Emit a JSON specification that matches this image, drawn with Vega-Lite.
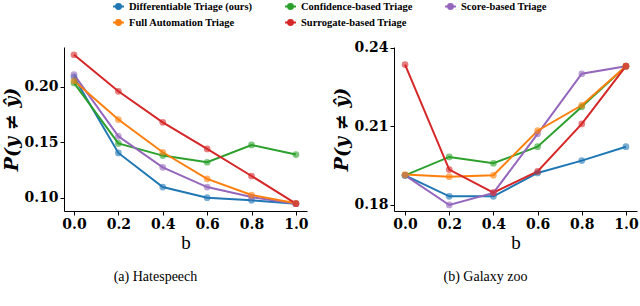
{
  "$schema": "https://vega.github.io/schema/vega-lite/v6.json",
  "padding": {"left": 2, "top": 0, "right": 0, "bottom": 0},
  "config": {
    "font": "DejaVu Serif",
    "view": {"stroke": null},
    "axis": {
      "labelFont": "DejaVu Serif", "labelFontWeight": "bold", "labelFontSize": 14, "labelColor": "#000",
      "titleFont": "DejaVu Serif", "titleFontWeight": "bold", "titleFontSize": 19, "titleColor": "#000",
      "domainColor": "#000", "tickColor": "#000", "grid": false, "tickSize": 4, "labelPadding": 2
    },
    "legend": {"labelFont": "Liberation Serif", "labelFontWeight": "bold", "labelFontSize": 10.5, "labelColor": "#000"}
  },
  "datasets": {
    "hate": [
      {"b": 0.0, "err": 0.209, "method": "Differentiable Triage (ours)"},
      {"b": 0.2, "err": 0.1404, "method": "Differentiable Triage (ours)"},
      {"b": 0.4, "err": 0.1096, "method": "Differentiable Triage (ours)"},
      {"b": 0.6, "err": 0.100, "method": "Differentiable Triage (ours)"},
      {"b": 0.8, "err": 0.0976, "method": "Differentiable Triage (ours)"},
      {"b": 1.0, "err": 0.0946, "method": "Differentiable Triage (ours)"},
      {"b": 0.0, "err": 0.2036, "method": "Confidence-based Triage"},
      {"b": 0.2, "err": 0.149, "method": "Confidence-based Triage"},
      {"b": 0.4, "err": 0.138, "method": "Confidence-based Triage"},
      {"b": 0.6, "err": 0.132, "method": "Confidence-based Triage"},
      {"b": 0.8, "err": 0.1476, "method": "Confidence-based Triage"},
      {"b": 1.0, "err": 0.1389, "method": "Confidence-based Triage"},
      {"b": 0.0, "err": 0.211, "method": "Score-based Triage"},
      {"b": 0.2, "err": 0.1554, "method": "Score-based Triage"},
      {"b": 0.4, "err": 0.1274, "method": "Score-based Triage"},
      {"b": 0.6, "err": 0.1096, "method": "Score-based Triage"},
      {"b": 0.8, "err": 0.1006, "method": "Score-based Triage"},
      {"b": 1.0, "err": 0.0946, "method": "Score-based Triage"},
      {"b": 0.0, "err": 0.2055, "method": "Full Automation Triage"},
      {"b": 0.2, "err": 0.1705, "method": "Full Automation Triage"},
      {"b": 0.4, "err": 0.141, "method": "Full Automation Triage"},
      {"b": 0.6, "err": 0.117, "method": "Full Automation Triage"},
      {"b": 0.8, "err": 0.1024, "method": "Full Automation Triage"},
      {"b": 1.0, "err": 0.095, "method": "Full Automation Triage"},
      {"b": 0.0, "err": 0.229, "method": "Surrogate-based Triage"},
      {"b": 0.2, "err": 0.196, "method": "Surrogate-based Triage"},
      {"b": 0.4, "err": 0.168, "method": "Surrogate-based Triage"},
      {"b": 0.6, "err": 0.144, "method": "Surrogate-based Triage"},
      {"b": 0.8, "err": 0.1196, "method": "Surrogate-based Triage"},
      {"b": 1.0, "err": 0.0946, "method": "Surrogate-based Triage"}
    ],
    "galaxy": [
      {"b": 0.0, "err": 0.1913, "method": "Differentiable Triage (ours)"},
      {"b": 0.2, "err": 0.1833, "method": "Differentiable Triage (ours)"},
      {"b": 0.4, "err": 0.1833, "method": "Differentiable Triage (ours)"},
      {"b": 0.6, "err": 0.1922, "method": "Differentiable Triage (ours)"},
      {"b": 0.8, "err": 0.1969, "method": "Differentiable Triage (ours)"},
      {"b": 1.0, "err": 0.2022, "method": "Differentiable Triage (ours)"},
      {"b": 0.0, "err": 0.1913, "method": "Confidence-based Triage"},
      {"b": 0.2, "err": 0.1983, "method": "Confidence-based Triage"},
      {"b": 0.4, "err": 0.1959, "method": "Confidence-based Triage"},
      {"b": 0.6, "err": 0.2022, "method": "Confidence-based Triage"},
      {"b": 0.8, "err": 0.2174, "method": "Confidence-based Triage"},
      {"b": 1.0, "err": 0.2329, "method": "Confidence-based Triage"},
      {"b": 0.0, "err": 0.1913, "method": "Score-based Triage"},
      {"b": 0.2, "err": 0.180, "method": "Score-based Triage"},
      {"b": 0.4, "err": 0.1846, "method": "Score-based Triage"},
      {"b": 0.6, "err": 0.2071, "method": "Score-based Triage"},
      {"b": 0.8, "err": 0.230, "method": "Score-based Triage"},
      {"b": 1.0, "err": 0.2329, "method": "Score-based Triage"},
      {"b": 0.0, "err": 0.1916, "method": "Full Automation Triage"},
      {"b": 0.2, "err": 0.1908, "method": "Full Automation Triage"},
      {"b": 0.4, "err": 0.1913, "method": "Full Automation Triage"},
      {"b": 0.6, "err": 0.2083, "method": "Full Automation Triage"},
      {"b": 0.8, "err": 0.218, "method": "Full Automation Triage"},
      {"b": 1.0, "err": 0.2329, "method": "Full Automation Triage"},
      {"b": 0.0, "err": 0.2335, "method": "Surrogate-based Triage"},
      {"b": 0.2, "err": 0.1935, "method": "Surrogate-based Triage"},
      {"b": 0.4, "err": 0.1847, "method": "Surrogate-based Triage"},
      {"b": 0.6, "err": 0.1928, "method": "Surrogate-based Triage"},
      {"b": 0.8, "err": 0.2109, "method": "Surrogate-based Triage"},
      {"b": 1.0, "err": 0.2329, "method": "Surrogate-based Triage"}
    ]
  },
  "hconcat": [
    {
      "width": 243, "height": 164,
      "data": {"name": "hate"},
      "title": {"text": "(a) Hatespeech", "orient": "bottom", "anchor": "middle", "frame": "bounds", "font": "Liberation Serif", "fontWeight": "normal", "fontSize": 14, "offset": 18, "color": "#000"},
      "encoding": {
        "x": {"field": "b", "type": "quantitative", "scale": {"domain": [-0.045, 1.05], "nice": false, "zero": false},
              "axis": {"values": [0, 0.2, 0.4, 0.6, 0.8, 1.0], "format": ".1f", "title": "b", "titleFont": "Liberation Serif", "titleFontWeight": "normal", "titleFontSize": 19, "titlePadding": 2}},
        "y": {"field": "err", "type": "quantitative", "scale": {"domain": [0.088, 0.236], "nice": false, "zero": false},
              "axis": {"values": [0.10, 0.15, 0.20], "format": ".2f", "title": "P(y ≠ ŷ)", "titleFontStyle": "italic", "titlePadding": 2}},
        "color": {"field": "method", "type": "nominal",
                  "scale": {"domain": ["Differentiable Triage (ours)", "Full Automation Triage", "Confidence-based Triage", "Surrogate-based Triage", "Score-based Triage"],
                            "range": ["#1f77b4", "#ff7f0e", "#2ca02c", "#d62728", "#9467bd"]},
                  "legend": {"orient": "none", "legendX": 48, "legendY": -47, "columns": 3, "title": null, "columnPadding": 28, "rowPadding": 3,
                             "symbolType": "M-1,0L1,0M-0.45,0A0.45,0.45,0,1,1,0.45,0A0.45,0.45,0,1,1,-0.45,0Z", "symbolSize": 120, "symbolStrokeWidth": 2, "labelLimit": 300,
                             "encode": {"symbols": {"update": {"stroke": {"scale": "color", "field": "value"}, "strokeWidth": {"value": 2}, "opacity": {"value": 1}}}}}}
      },
      "layer": [
        {"mark": {"type": "line", "strokeWidth": 2}},
        {"mark": {"type": "point", "filled": true, "size": 45, "opacity": 0.6}}
      ]
    },
    {
      "width": 243, "height": 164,
      "data": {"name": "galaxy"},
      "title": {"text": "(b) Galaxy zoo", "orient": "bottom", "anchor": "middle", "frame": "bounds", "font": "Liberation Serif", "fontWeight": "normal", "fontSize": 14, "offset": 18, "color": "#000"},
      "encoding": {
        "x": {"field": "b", "type": "quantitative", "scale": {"domain": [-0.05, 1.05], "nice": false, "zero": false},
              "axis": {"values": [0, 0.2, 0.4, 0.6, 0.8, 1.0], "format": ".1f", "title": "b", "titleFont": "Liberation Serif", "titleFontWeight": "normal", "titleFontSize": 19, "titlePadding": 2}},
        "y": {"field": "err", "type": "quantitative", "scale": {"domain": [0.1777, 0.2402], "nice": false, "zero": false},
              "axis": {"values": [0.18, 0.21, 0.24], "format": ".2f", "title": "P(y ≠ ŷ)", "titleFontStyle": "italic", "titlePadding": 2}},
        "color": {"field": "method", "type": "nominal"}
      },
      "layer": [
        {"mark": {"type": "line", "strokeWidth": 2}},
        {"mark": {"type": "point", "filled": true, "size": 45, "opacity": 0.6}}
      ]
    }
  ],
  "spacing": 23,
  "resolve": {"scale": {"color": "shared"}}
}
